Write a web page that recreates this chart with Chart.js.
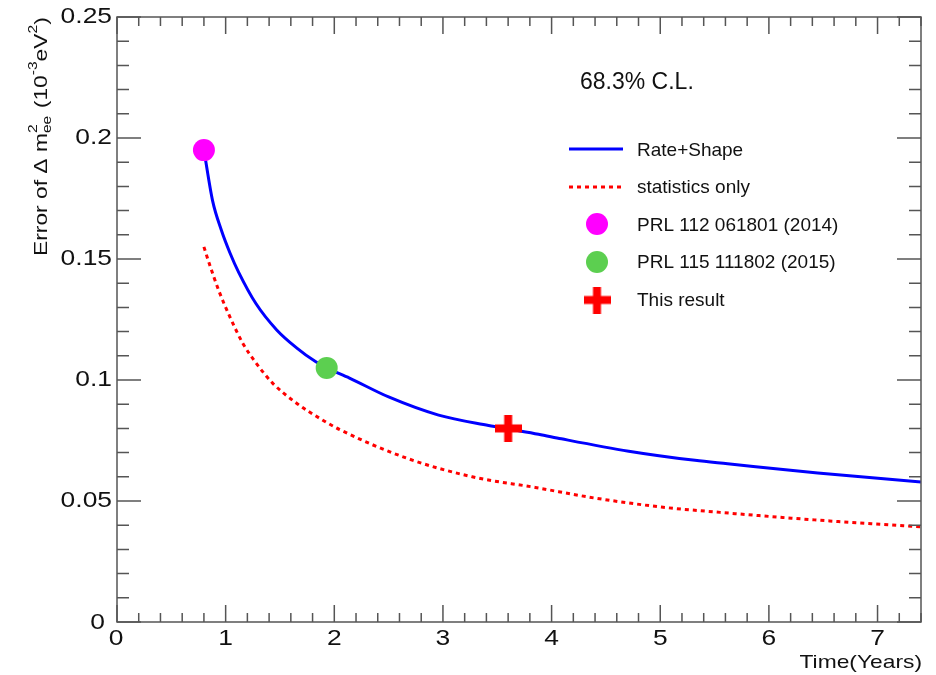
<!DOCTYPE html>
<html>
<head>
<meta charset="utf-8">
<script src="https://cdn.jsdelivr.net/npm/chart.js@4.4.1/dist/chart.umd.min.js"></script>
<style>
  html, body { margin: 0; padding: 0; background: #fff; }
  canvas { display: block; }
</style>
</head>
<body>
<canvas id="c" width="936" height="675"></canvas>
<script>
'use strict';

/* ---- Data ---- */
const rateShapeX = [0.8, 0.88, 0.96, 1.04, 1.12, 1.28, 1.47, 1.65, 1.83, 1.93, 2.14, 2.5, 2.96, 3.42, 3.61, 3.88, 4.09, 4.71, 5.32, 5.62, 6.45, 7.4];
const rateShapeY = [0.195, 0.174, 0.162, 0.1525, 0.1445, 0.1315, 0.1207, 0.1134, 0.1075, 0.105, 0.1008, 0.093, 0.0855, 0.0812, 0.0797, 0.0776, 0.0757, 0.0706, 0.0668, 0.0654, 0.0616, 0.0579];

const statsX = [0.8, 0.85, 0.945, 1.04, 1.16, 1.28, 1.43, 1.65, 1.89, 2.05, 2.66, 3.27, 3.85, 4.40, 5.01, 5.55, 6.45, 7.4];
const statsY = [0.155, 0.148, 0.136, 0.126, 0.115, 0.107, 0.0988, 0.0905, 0.0835, 0.0795, 0.0678, 0.060, 0.0556, 0.0512, 0.0475, 0.0453, 0.0421, 0.0393];

const prl2014 = { x: 0.8,  y: 0.195 };
const prl2015 = { x: 1.93, y: 0.105 };
const thisResult = { x: 3.6, y: 0.08 };

const xTickLabels = ['0', '1', '2', '3', '4', '5', '6', '7'];
const yTickLabels = ['0', '0.05', '0.1', '0.15', '0.2', '0.25'];

const legendLabels = ['Rate+Shape', 'statistics only', 'PRL 112 061801 (2014)', 'PRL 115 111802 (2015)', 'This result'];

/* ---- Style ---- */
const FONT = '"Liberation Sans", Arial, Helvetica, sans-serif';
const TEXT = '#111';
const AXIS = '#555';
const BLUE = '#0000ff';
const RED = '#ff0000';
const MAGENTA = '#ff00ff';
const GREEN = '#5ccf50';
const STRETCH = 1.2;   // axis text in the reference is drawn wide

function zip(xs, ys) { return xs.map((x, i) => ({ x, y: ys[i] })); }

/* thick red cross used as point style */
function makeCross(size, thick) {
  const cv = document.createElement('canvas');
  cv.width = size; cv.height = size;
  const g = cv.getContext('2d');
  g.fillStyle = RED;
  g.fillRect(0, (size - thick) / 2, size, thick);
  g.fillRect((size - thick) / 2, 0, thick, size);
  return cv;
}
const crossImg = makeCross(27, 8);

function txt(ctx, s, x, y, size, align, sx) {
  ctx.save();
  ctx.translate(x, y);
  ctx.scale(sx || 1, 1);
  ctx.font = `${size}px ${FONT}`;
  ctx.textAlign = align || 'left';
  ctx.textBaseline = 'middle';
  ctx.fillText(s, 0, 0);
  ctx.restore();
}

/* ---- Frame, inner ticks, labels, legend ---- */
const rootStyle = {
  id: 'rootStyle',
  afterDatasetsDraw(chart) {
    const { ctx, chartArea: a, scales: { x, y } } = chart;
    ctx.save();
    ctx.strokeStyle = AXIS;
    ctx.lineWidth = 1.5;
    ctx.strokeRect(a.left, a.top, a.right - a.left, a.bottom - a.top);

    ctx.beginPath();
    // x ticks every 0.2, major every 1
    for (let i = 0; i * 0.2 <= x.max + 1e-9; i++) {
      const px = x.getPixelForValue(i * 0.2);
      const len = i % 5 === 0 ? 17 : 9;
      ctx.moveTo(px, a.bottom); ctx.lineTo(px, a.bottom - len);
      ctx.moveTo(px, a.top);    ctx.lineTo(px, a.top + len);
    }
    // y ticks every 0.01, major every 0.05
    for (let i = 0; i <= 25; i++) {
      const py = y.getPixelForValue(i * 0.01);
      const len = i % 5 === 0 ? 24 : 12;
      ctx.moveTo(a.left, py);  ctx.lineTo(a.left + len, py);
      ctx.moveTo(a.right, py); ctx.lineTo(a.right - len, py);
    }
    ctx.stroke();

    ctx.fillStyle = TEXT;
    // tick labels
    xTickLabels.forEach((l, i) => {
      const px = x.getPixelForValue(i);
      txt(ctx, l, i === 0 ? px - 1 : px, 639, 22, 'center', STRETCH);
    });
    yTickLabels.forEach((l, i) => {
      const py = y.getPixelForValue(i * 0.05);
      if (i === 0) txt(ctx, l, a.left - 12, py + 1, 22, 'right', STRETCH);
      else txt(ctx, l, a.left - 5, py, 22, 'right', STRETCH);
    });

    // axis titles
    txt(ctx, 'Time(Years)', 922, 663, 19, 'right', STRETCH);

    ctx.save();
    ctx.translate(40, 256);
    ctx.rotate(-Math.PI / 2);
    ctx.scale(STRETCH, 1);
    let cx = 0;
    const part = (s, size, dy) => {
      ctx.font = `${size}px ${FONT}`;
      ctx.textAlign = 'left';
      ctx.textBaseline = 'alphabetic';
      ctx.fillText(s, cx, dy);
      return ctx.measureText(s).width;
    };
    cx += part('Error of \u0394 m', 19, 7);
    const w2 = part('2', 13, -3);
    part('ee', 13, 11);
    cx += Math.max(w2, ctx.measureText('ee').width) + 1;
    cx += part(' (10', 19, 7);
    cx += part('-3', 13, -3);
    cx += part('eV', 19, 7);
    cx += part('2', 13, -3);
    part(')', 19, 7);
    ctx.restore();

    // annotation
    txt(ctx, '68.3% C.L.', 580, 83, 23, 'left');

    // legend
    const lx = 637;
    const rows = [151, 188, 226, 263, 301];
    ctx.lineWidth = 3;
    ctx.strokeStyle = BLUE;
    ctx.beginPath(); ctx.moveTo(569, 149); ctx.lineTo(623, 149); ctx.stroke();
    ctx.strokeStyle = RED;
    ctx.setLineDash([4, 4]);
    ctx.beginPath(); ctx.moveTo(569, 187); ctx.lineTo(622, 187); ctx.stroke();
    ctx.setLineDash([]);
    ctx.fillStyle = MAGENTA;
    ctx.beginPath(); ctx.arc(597, 224, 11, 0, Math.PI * 2); ctx.fill();
    ctx.fillStyle = GREEN;
    ctx.beginPath(); ctx.arc(597, 262, 11, 0, Math.PI * 2); ctx.fill();
    ctx.drawImage(crossImg, 597 - 13.5, 300 - 13.5);

    ctx.fillStyle = TEXT;
    legendLabels.forEach((l, i) => txt(ctx, l, lx, rows[i], 19, 'left'));
    ctx.restore();
  }
};

new Chart(document.getElementById('c'), {
  type: 'scatter',
  data: {
    datasets: [
      { label: 'PRL 112 061801 (2014)', data: [prl2014], pointStyle: 'circle', pointRadius: 11,
        backgroundColor: MAGENTA, borderWidth: 0, order: 0 },
      { label: 'PRL 115 111802 (2015)', data: [prl2015], pointStyle: 'circle', pointRadius: 11,
        backgroundColor: GREEN, borderWidth: 0, order: 0 },
      { label: 'This result', data: [thisResult], pointStyle: crossImg, pointRadius: 14, order: 0 },
      { label: 'Rate+Shape', data: zip(rateShapeX, rateShapeY), showLine: true, borderColor: BLUE,
        borderWidth: 3, pointRadius: 0, cubicInterpolationMode: 'monotone', order: 1 },
      { label: 'statistics only', data: zip(statsX, statsY), showLine: true, borderColor: RED,
        borderWidth: 3, borderDash: [4, 4], pointRadius: 0, cubicInterpolationMode: 'monotone', order: 1 },
    ],
  },
  options: {
    responsive: false,
    animation: false,
    layout: { padding: { left: 117, right: 12, top: 17, bottom: 53 } },
    plugins: { legend: { display: false }, tooltip: { enabled: false } },
    scales: {
      x: { type: 'linear', min: 0, max: 7.4, display: false },
      y: { type: 'linear', min: 0, max: 0.25, display: false },
    },
  },
  plugins: [rootStyle],
});
</script>
</body>
</html>
